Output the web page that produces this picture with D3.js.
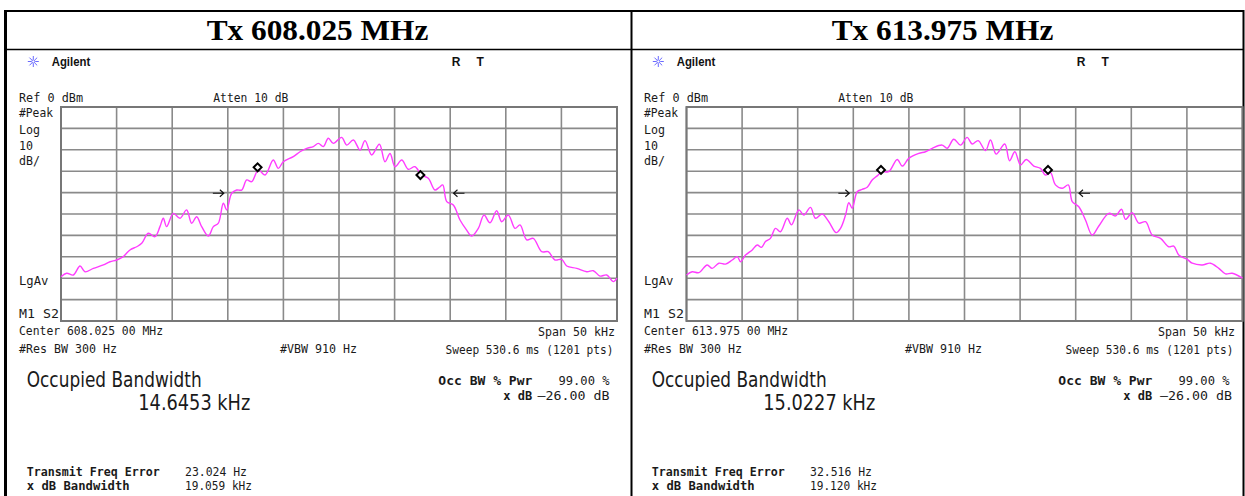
<!DOCTYPE html>
<html><head><meta charset="utf-8">
<script src="https://cdn.jsdelivr.net/npm/d3@7"></script>
<style>body{margin:0;background:#fff}svg{display:block}</style>
</head><body>
<svg id="c" width="1245" height="496"></svg>
<script>
// ---- data ----
const titles = ["Tx 608.025 MHz", "Tx 613.975 MHz"];
const centerLabels = ["Center 608.025 00 MHz", "Center 613.975 00 MHz"];
const occBwValues = ["14.6453 kHz", "15.0227 kHz"];
const freqErrors = ["23.024 Hz", "32.516 Hz"];
const xdbBandwidths = ["19.059 kHz", "19.120 kHz"];
const freqGrid = [-25, -20, -15, -10, -5, 0, 5, 10, 15, 20, 25];      // kHz offset from center
const levelGrid = [0, -10, -20, -30, -40, -50, -60, -70, -80, -90, -100]; // dBm

const freqL = [-25,-24.49,-23.89,-23.29,-22.84,-22.09,-21.19,-20.59,-19.99,-19.40,-18.80,-18.19,-17.74,-17.15,-16.55,-16.10,-15.80,-15.50,-14.90,-14.30,-13.70,-13.25,-12.80,-12.35,-11.75,-11.30,-10.85,-10.40,-10.10,-9.65,-9.20,-8.75,-8.30,-7.85,-7.25,-6.65,-5.91,-5.46,-5.01,-4.11,-3.51,-2.90,-2.31,-1.86,-1.41,-0.96,-0.51,0.24,0.69,1.29,1.89,2.34,2.94,3.63,4.14,4.59,5.04,5.64,6.23,6.83,7.44,8.03,8.63,9.02,9.33,9.69,10.28,10.88,11.48,11.93,12.53,13.04,13.58,14.18,14.63,15.23,15.83,16.28,16.88,17.47,18.23,18.82,19.42,20.03,20.48,21.38,22.28,22.87,23.47,24.08,24.67,25];
const levelL = [-79.3,-77.7,-78.5,-74.3,-77.0,-75.4,-73.8,-72.3,-71.5,-69.9,-66.8,-65.3,-63.7,-59.0,-60.6,-55.9,-52.0,-55.9,-49.7,-52.0,-48.1,-54.3,-51.3,-55.9,-60.3,-55.9,-54.3,-45.0,-48.1,-40.3,-38.8,-38.8,-34.1,-34.9,-29.4,-31.8,-24.8,-28.7,-25.6,-23.2,-20.9,-19.3,-18.5,-17.0,-18.5,-14.6,-17.0,-14.2,-17.8,-15.4,-20.1,-15.7,-22.4,-17.4,-25.6,-21.7,-27.9,-24.8,-29.1,-27.9,-31.8,-33.3,-38.8,-37.5,-36.4,-44.2,-45.8,-52.8,-57.5,-60.3,-56.7,-50.5,-54.1,-48.5,-53.6,-50.5,-56.7,-55.1,-62.1,-61.4,-67.6,-67.6,-71.5,-71.2,-74.3,-75.4,-77.0,-76.5,-79.0,-78.5,-81.6,-80.0];

const freqR = [-25,-24.49,-23.89,-23.14,-22.69,-22.09,-21.49,-20.89,-20.44,-20.14,-19.69,-19.09,-18.64,-18.26,-17.90,-17.45,-17.00,-16.55,-15.94,-15.56,-14.90,-14.45,-13.85,-13.40,-12.80,-12.20,-11.54,-11.15,-10.70,-10.40,-10.10,-9.65,-9.20,-8.75,-8.30,-7.85,-7.40,-6.81,-6.05,-5.60,-5.01,-4.11,-3.51,-2.90,-2.01,-1.56,-0.96,-0.36,0.24,0.69,1.23,1.89,2.34,2.85,3.62,4.05,4.53,5.04,5.55,6.23,6.83,7.28,7.73,8.18,8.79,9.33,9.69,10.28,10.88,11.48,12.08,12.98,13.58,14.12,14.48,15.08,15.68,16.28,16.88,17.63,18.37,18.82,19.27,20.03,20.48,21.38,22.12,22.87,23.47,24.07,25];
const levelR = [-78.5,-77.0,-77.4,-73.8,-75.4,-73.0,-73.4,-71.5,-69.9,-72.3,-69.2,-66.8,-64.5,-65.6,-62.9,-61.4,-56.7,-58.3,-52.0,-55.1,-48.1,-50.5,-46.9,-52.0,-50.0,-53.6,-58.7,-56.7,-50.5,-44.7,-47.3,-39.6,-38.5,-37.5,-34.1,-32.2,-30.2,-30.2,-24.5,-27.6,-24.0,-21.7,-20.9,-19.3,-17.8,-19.3,-15.1,-17.8,-14.2,-17.3,-15.7,-20.4,-15.4,-22.0,-17.3,-25.1,-20.9,-27.1,-24.5,-27.6,-28.7,-31.8,-30.7,-36.4,-38.0,-36.4,-44.2,-46.6,-52.8,-59.8,-55.6,-49.7,-50.9,-47.8,-52.5,-49.4,-54.3,-53.6,-59.8,-61.4,-65.3,-65.0,-69.2,-71.2,-73.0,-73.8,-73.0,-75.4,-78.0,-77.7,-80.0];

const markerFreqs = [[-7.32, 7.32], [-7.51, 7.51]];
const markerLevels = [[-28.2, -31.8], [-29.4, -29.4]];
const arrowFreqs = [[-10.85, 10.79], [-10.85, 10.79]];
const arrowLevel = -40.3;

// ---- drawing ----
const svg = d3.select("#c");
const traces = [[freqL, levelL], [freqR, levelR]];
const panelDx = [0, 625];
const rightDx = [0, 620];
const gridX0 = [61, 686.5];
const GW = 556, GY0 = 107, GH = 214;
const TXT = "#1a1a1a";
const MONO = "DejaVu Sans Mono";

function T(x, y, s, size, o = {}) {
  const t = svg.append("text").attr("x", x).attr("y", y).text(s)
    .attr("font-family", o.family || MONO).attr("font-size", size)
    .attr("fill", o.fill || TXT);
  if (o.weight) t.attr("font-weight", o.weight);
  if (o.len) t.attr("textLength", o.len).attr("lengthAdjust", "spacingAndGlyphs");
  return t;
}
function TR(right, y, s, size, len, o = {}) { return T(right - len, y, s, size, Object.assign({len}, o)); }

// table frame
const frame = svg.append("g").attr("stroke", "#000");
frame.append("line").attr("x1", 4).attr("x2", 1244).attr("y1", 11).attr("y2", 11).attr("stroke-width", 2);
frame.append("line").attr("x1", 4).attr("x2", 1244).attr("y1", 49.5).attr("y2", 49.5).attr("stroke-width", 1.6);
frame.append("line").attr("x1", 5.5).attr("x2", 5.5).attr("y1", 10).attr("y2", 496).attr("stroke-width", 3);
frame.append("line").attr("x1", 631.5).attr("x2", 631.5).attr("y1", 10).attr("y2", 496).attr("stroke-width", 2);
frame.append("line").attr("x1", 1243.5).attr("x2", 1243.5).attr("y1", 10).attr("y2", 496).attr("stroke-width", 2);

[0, 1].forEach(p => {
  const dx = panelDx[p], rdx = rightDx[p];
  const x = d3.scaleLinear().domain([-25, 25]).range([gridX0[p], gridX0[p] + GW]);
  const y = d3.scaleLinear().domain([0, -100]).range([GY0, GY0 + GH]);

  // title
  T(206.7 + dx, 40, titles[p], 30, {family: "Liberation Serif", weight: "bold", fill: "#000", len: 221.6});

  // Agilent logo
  const star = svg.append("g").attr("transform", `translate(${33.3 + dx},61.5)`).attr("stroke", "#6a6aff").attr("stroke-width", 1);
  d3.range(8).forEach(i => {
    const a = i * Math.PI / 4;
    star.append("line").attr("x1", Math.cos(a) * 2).attr("y1", Math.sin(a) * 2)
      .attr("x2", Math.cos(a) * 5.5).attr("y2", Math.sin(a) * 5.5);
  });
  star.append("circle").attr("r", 1.6).attr("fill", "none");
  T(51.7 + dx, 65.5, "Agilent", 12, {family: "Liberation Sans", weight: "bold", fill: "#111", len: 38.5});
  T(451.7 + dx, 65.5, "R", 12, {family: "Liberation Sans", weight: "bold", fill: "#111"});
  T(476.5 + dx, 65.5, "T", 12, {family: "Liberation Sans", weight: "bold", fill: "#111"});

  // header texts
  T(19 + dx, 101.5, "Ref 0 dBm", 13, {len: 64});
  T(213.3 + dx, 101.5, "Atten 10 dB", 13, {len: 75});
  T(19 + dx, 117, "#Peak", 13, {len: 34});
  T(19 + dx, 133.5, "Log", 13, {len: 21});
  T(19 + dx, 149.5, "10", 13, {len: 14});
  T(19 + dx, 165, "dB/", 13, {len: 21});
  T(19 + dx, 285, "LgAv", 13, {len: 29.5});
  T(19 + dx, 318, "M1 S2", 13, {len: 40});

  // grid
  const g = svg.append("g");
  g.selectAll("line.v").data(freqGrid).join("line").attr("class", "v")
    .attr("x1", d => x(d)).attr("x2", d => x(d)).attr("y1", GY0).attr("y2", GY0 + GH)
    .attr("stroke", "#8a8a8a").attr("stroke-width", 1.6);
  g.selectAll("line.h").data(levelGrid).join("line").attr("class", "h")
    .attr("x1", gridX0[p]).attr("x2", gridX0[p] + GW).attr("y1", d => y(d)).attr("y2", d => y(d))
    .attr("stroke", "#8a8a8a").attr("stroke-width", 1.6);
  g.append("rect").attr("x", gridX0[p]).attr("y", GY0).attr("width", GW).attr("height", GH)
    .attr("fill", "none").attr("stroke", "#777").attr("stroke-width", 2);

  // trace
  const [fr, lv] = traces[p];
  const line = d3.line().x((d, i) => x(fr[i])).y(d => y(d)).curve(d3.curveCatmullRom.alpha(0.5));
  svg.append("path").datum(lv).attr("d", line).attr("fill", "none")
    .attr("stroke", "#ff3cff").attr("stroke-width", 1.4);

  // markers (diamonds)
  markerFreqs[p].forEach((f, i) => {
    svg.append("path").attr("d", d3.symbol(d3.symbolDiamond2, 40)())
      .attr("transform", `translate(${x(f)},${y(markerLevels[p][i])})`)
      .attr("fill", "#fff").attr("stroke", "#000").attr("stroke-width", 2);
  });

  // arrows
  arrowFreqs[p].forEach((f, i) => {
    const cx = x(f), cy = y(arrowLevel), dir = i === 0 ? 1 : -1;
    const tip = cx + dir * 5.5;
    svg.append("path")
      .attr("d", `M${cx - dir * 5.5},${cy}L${tip},${cy}M${tip - dir * 4},${cy - 3.5}L${tip},${cy}L${tip - dir * 4},${cy + 3.5}`)
      .attr("fill", "none").attr("stroke", "#111").attr("stroke-width", 1.1);
  });

  // footer texts
  T(19 + dx, 335, centerLabels[p], 13, {len: 144});
  TR(615 + rdx, 336, "Span 50 kHz", 13, 77);
  T(19 + dx, 352.5, "#Res BW 300 Hz", 13, {len: 98});
  T(280 + dx, 352.5, "#VBW 910 Hz", 13, {len: 77});
  TR(613.5 + rdx, 353.5, "Sweep 530.6 ms (1201 pts)", 11.6, 168);

  T(26.7 + dx, 387, "Occupied Bandwidth", 21, {family: "DejaVu Sans", len: 175});
  T(138.3 + dx, 410, occBwValues[p], 21, {family: "DejaVu Sans", len: 112});

  TR(532.3 + rdx, 385, "Occ BW % Pwr", 13, 94, {weight: "bold"});
  TR(609.5 + rdx, 385, "99.00 %", 13, 51);
  TR(532.3 + rdx, 400, "x dB", 13, 29, {weight: "bold"});
  TR(609.5 + (p ? 622.5 : 0), 400, "\u201326.00 dB", 13, 72);

  T(26.7 + dx, 476, "Transmit Freq Error", 13, {weight: "bold", len: 133});
  T(185 + dx, 476, freqErrors[p], 13, {len: 62});
  T(26.7 + dx, 490, "x dB Bandwidth", 13, {weight: "bold", len: 103});
  T(185 + dx, 490, xdbBandwidths[p], 13, {len: 67});
});
</script>
</body></html>
